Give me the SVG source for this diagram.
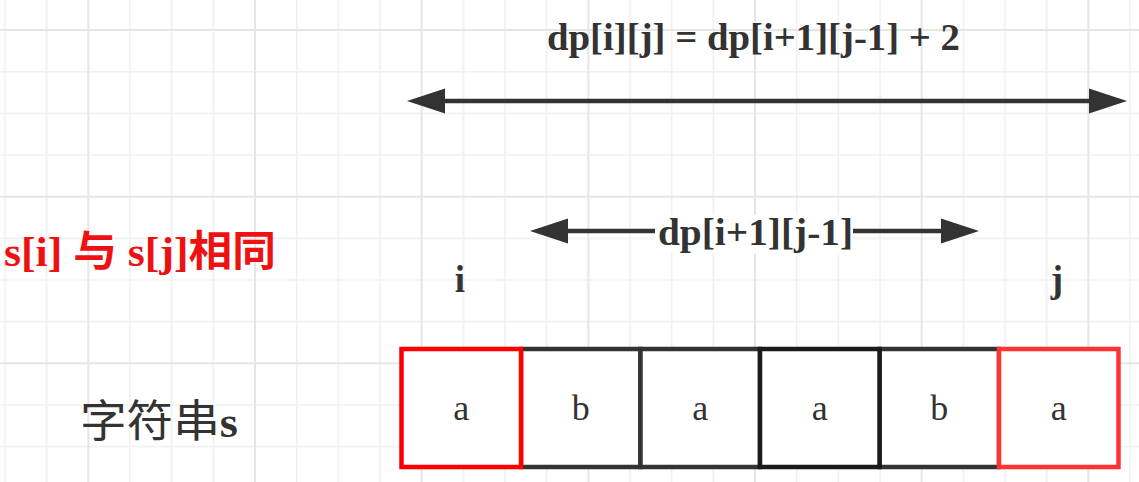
<svg xmlns="http://www.w3.org/2000/svg" width="1139" height="482" viewBox="0 0 1139 482">
  <defs>
    <pattern id="grid" patternUnits="userSpaceOnUse" x="87.33" y="29" width="166.67" height="166.67">
      <g stroke="#efefef" stroke-width="1.5" fill="none">
        <path d="M42.67,0 V166.67 M84.33,0 V166.67 M126,0 V166.67"/>
        <path d="M0,42.67 H166.67 M0,84.33 H166.67 M0,126 H166.67"/>
      </g>
      <g stroke="#e6e6e6" stroke-width="2" fill="none">
        <path d="M1,0 V166.67 M0,1 H166.67"/>
      </g>
    </pattern>
    <marker id="head" markerUnits="userSpaceOnUse" viewBox="0 0 38 25" refX="0" refY="12.5" markerWidth="38" markerHeight="25" orient="auto-start-reverse" overflow="visible">
      <path d="M0,0 L38,12.5 L0,25 Z" fill="#333333"/>
    </marker>
    <style>
      .lbl { font-family: "Liberation Serif", "Noto Sans CJK SC", serif; font-weight: bold; fill: #333333; }
      .cell { fill: #ffffff; stroke-width: 4.5; }
      .cellText { font-family: "Liberation Serif", serif; font-size: 36px; fill: #333333; text-anchor: middle; }
      .conn { stroke: #333333; stroke-width: 4.5; fill: none; marker-start: url(#head); marker-end: url(#head); }
    </style>
  </defs>

  <rect x="0" y="0" width="1139" height="482" fill="#ffffff"/>
  <rect x="0" y="0" width="1139" height="482" fill="url(#grid)"/>

  <g id="title">
    <text class="lbl" x="547" y="50" font-size="37" textLength="413" lengthAdjust="spacingAndGlyphs">dp[i][j] = dp[i+1][j-1] + 2</text>
  </g>

  <g id="same-label">
    <text x="4" y="265.5" font-size="42" font-weight="bold" fill="#ee1111" font-family="&quot;Liberation Serif&quot;, &quot;Noto Sans CJK SC&quot;, serif" textLength="272" lengthAdjust="spacingAndGlyphs">s[i] 与 s[j]相同</text>
  </g>

  <g id="label-i">
    <text class="lbl" x="460" y="292" font-size="37" text-anchor="middle">i</text>
  </g>
  <g id="label-j">
    <text class="lbl" x="1057" y="292" font-size="37" text-anchor="middle">j</text>
  </g>

  <g id="string-label">
    <text x="80" y="437" font-size="44" fill="#333333" font-family="&quot;Liberation Serif&quot;, &quot;Noto Sans CJK SC&quot;, serif" textLength="158" lengthAdjust="spacingAndGlyphs">字符串<tspan font-weight="bold">s</tspan></text>
  </g>

  <g id="cell-2">
    <rect class="cell" x="521" y="349" width="119.5" height="118" stroke="#333333"/>
    <text class="cellText" x="580.7" y="420">b</text>
  </g>
  <g id="cell-3">
    <rect class="cell" x="640.5" y="349" width="119.5" height="118" stroke="#333333"/>
    <text class="cellText" x="700.2" y="420">a</text>
  </g>
  <g id="cell-5">
    <rect class="cell" x="879.5" y="349" width="119.5" height="118" stroke="#333333"/>
    <text class="cellText" x="939.2" y="420">b</text>
  </g>
  <g id="cell-4">
    <rect class="cell" x="760" y="349" width="119.5" height="118" stroke="#1a1a1a"/>
    <text class="cellText" x="819.7" y="420">a</text>
  </g>
  <g id="cell-1">
    <rect class="cell" x="401.5" y="349" width="119.5" height="118" stroke="#ff0000"/>
    <text class="cellText" x="461.2" y="420">a</text>
  </g>
  <g id="cell-6">
    <rect class="cell" x="999" y="349" width="119.5" height="118" stroke="#ff3333"/>
    <text class="cellText" x="1058.7" y="420">a</text>
  </g>

  <g id="connectors">
    <path class="conn" d="M445,101 H1089"/>
    <path class="conn" d="M568,231 H941"/>
  </g>

  <g id="inner-label">
    <rect x="655" y="215" width="198" height="38" fill="#ffffff"/>
    <text class="lbl" x="658" y="244.5" font-size="37" textLength="195" lengthAdjust="spacingAndGlyphs">dp[i+1][j-1]</text>
  </g>
</svg>
